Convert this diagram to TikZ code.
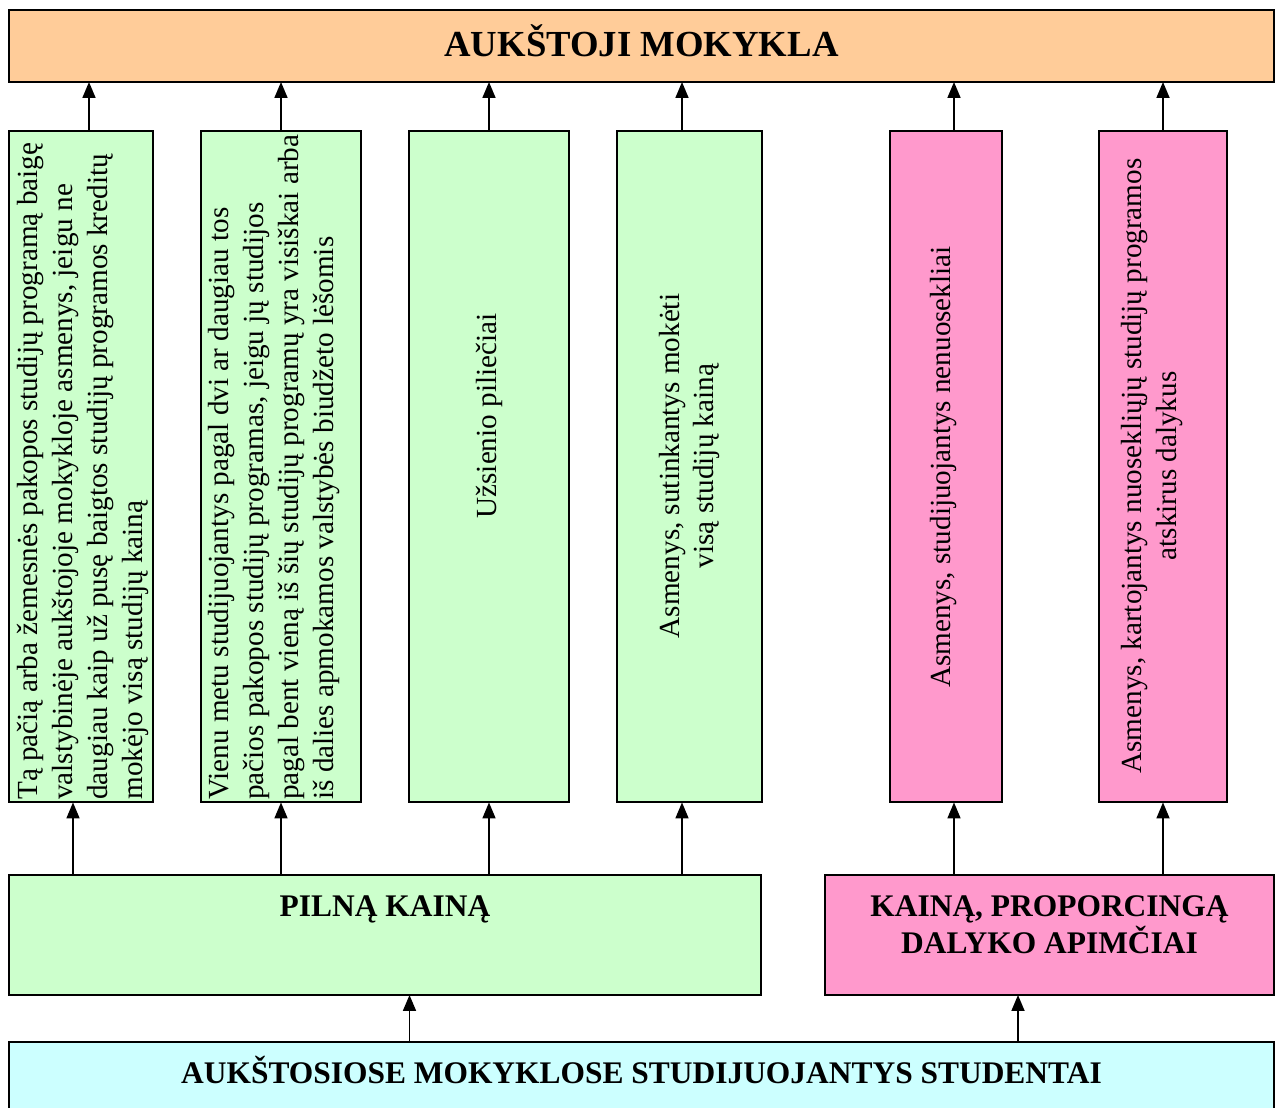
\documentclass[tikz,border=0pt]{standalone}
\usepackage{fontspec}
\setmainfont{Liberation Serif}
\usetikzlibrary{arrows.meta}
\definecolor{orangebox}{HTML}{FFCC99}
\definecolor{greenbox}{HTML}{CCFFCC}
\definecolor{pinkbox}{HTML}{FF99CC}
\definecolor{cyanbox}{HTML}{CCFFFF}

\begin{document}
\begin{tikzpicture}[x=0.02cm,y=-0.02cm,
  box/.style={draw=black, line width=1.1pt, rectangle, inner sep=0pt, outer sep=0pt},
  arr/.style={line width=1pt, -{Triangle[length=0.32cm,width=0.26cm]}},
  vtext/.style={rotate=90, inner sep=0pt, font=\fontsize{16.6}{19.85}\selectfont},
  head/.style={inner sep=0pt, font=\bfseries\fontsize{17.9}{21}\selectfont}]
\useasboundingbox (0,0) rectangle (1279,1108);
\begin{scope}
\clip (0,0) rectangle (1279,1108);

% top institution box
\node[box, fill=orangebox, minimum width=25.3cm, minimum height=1.44cm] (top) at (641.5,46) {};
\node[inner sep=0pt, anchor=base, font=\bfseries\fontsize{20.9}{25}\selectfont] (toplbl) at (641.5,57) {AUKŠTOJI MOKYKLA};

% categories of students
\node[box, fill=greenbox, minimum width=2.88cm, minimum height=13.44cm] (g1) at (81,466.5) {};
\node[box, fill=greenbox, minimum width=3.2cm,  minimum height=13.44cm] (g2) at (281,466.5) {};
\node[box, fill=greenbox, minimum width=3.2cm,  minimum height=13.44cm] (g3) at (489,466.5) {};
\node[box, fill=greenbox, minimum width=2.9cm,  minimum height=13.44cm] (g4) at (689.5,466.5) {};
\node[box, fill=pinkbox,  minimum width=2.24cm, minimum height=13.44cm] (p5) at (946,466.5) {};
\node[box, fill=pinkbox,  minimum width=2.56cm, minimum height=13.44cm] (p6) at (1163,466.5) {};

\node[vtext, anchor=north west, align=left] (t1) at (17,800)
  {Tą pačią arba žemesnės pakopos studijų programą baigę\\
   valstybinėje aukštojoje mokykloje asmenys, jeigu ne\\
   daugiau kaip už pusę baigtos studijų programos kreditų\\
   mokėjo visą studijų kainą};
\node[vtext, anchor=north west, align=left] (t2) at (208,800)
  {Vienu metu studijuojantys pagal dvi ar daugiau tos\\
   pačios pakopos studijų programas, jeigu jų studijos\\
   pagal bent vieną iš šių studijų programų yra visiškai arba\\
   iš dalies apmokamos valstybės biudžeto lėšomis};
\node[vtext] (t3) at (489,416) {Užsienio piliečiai};
\node[vtext, align=center] (t4) at (689.5,466) {Asmenys, sutinkantys mokėti\\ visą studijų kainą};
\node[vtext] (t5) at (944,467) {Asmenys, studijuojantys nenuosekliai};
\node[vtext, align=center] (t6) at (1152,466) {Asmenys, kartojantys nuosekliųjų studijų programos\\ atskirus dalykus};

% payment types
\node[box, fill=greenbox, minimum width=15.04cm, minimum height=2.4cm] (full) at (385,935) {};
\node[head, anchor=base] (fulllbl) at (385,916) {PILNĄ KAINĄ};
\node[box, fill=pinkbox, minimum width=8.98cm, minimum height=2.4cm] (prop) at (1049.5,935) {};
\node[head, anchor=north, align=center] (proplbl) at (1049.5,895) {KAINĄ, PROPORCINGĄ\\ DALYKO APIMČIAI};

% students
\node[box, fill=cyanbox, minimum width=25.3cm, minimum height=1.8cm] (stud) at (641.5,1087) {};
\node[head, anchor=base] (studlbl) at (641.5,1083) {AUKŠTOSIOSE MOKYKLOSE STUDIJUOJANTYS STUDENTAI};

% connector positions
\coordinate (c1) at (89,0);
\coordinate (d1) at (73,0);
\coordinate (c2) at (281,0);
\coordinate (c3) at (489,0);
\coordinate (c4) at (682,0);
\coordinate (c5) at (954,0);
\coordinate (c6) at (1163,0);
\coordinate (e1) at (409.5,0);
\coordinate (e2) at (1018,0);

% arrows to the institution
\draw[arr] (g1.north -| c1) -- (top.south -| c1);
\draw[arr] (g2.north -| c2) -- (top.south -| c2);
\draw[arr] (g3.north -| c3) -- (top.south -| c3);
\draw[arr] (g4.north -| c4) -- (top.south -| c4);
\draw[arr] (p5.north -| c5) -- (top.south -| c5);
\draw[arr] (p6.north -| c6) -- (top.south -| c6);

% arrows from payment types to categories
\draw[arr] (full.north -| d1) -- (g1.south -| d1);
\draw[arr] (full.north -| c2) -- (g2.south -| c2);
\draw[arr] (full.north -| c3) -- (g3.south -| c3);
\draw[arr] (full.north -| c4) -- (g4.south -| c4);
\draw[arr] (prop.north -| c5) -- (p5.south -| c5);
\draw[arr] (prop.north -| c6) -- (p6.south -| c6);

% arrows from students to payment types
\draw[arr] (stud.north -| e1) -- (full.south -| e1);
\draw[arr] (stud.north -| e2) -- (prop.south -| e2);
\end{scope}
\end{tikzpicture}
\end{document}
